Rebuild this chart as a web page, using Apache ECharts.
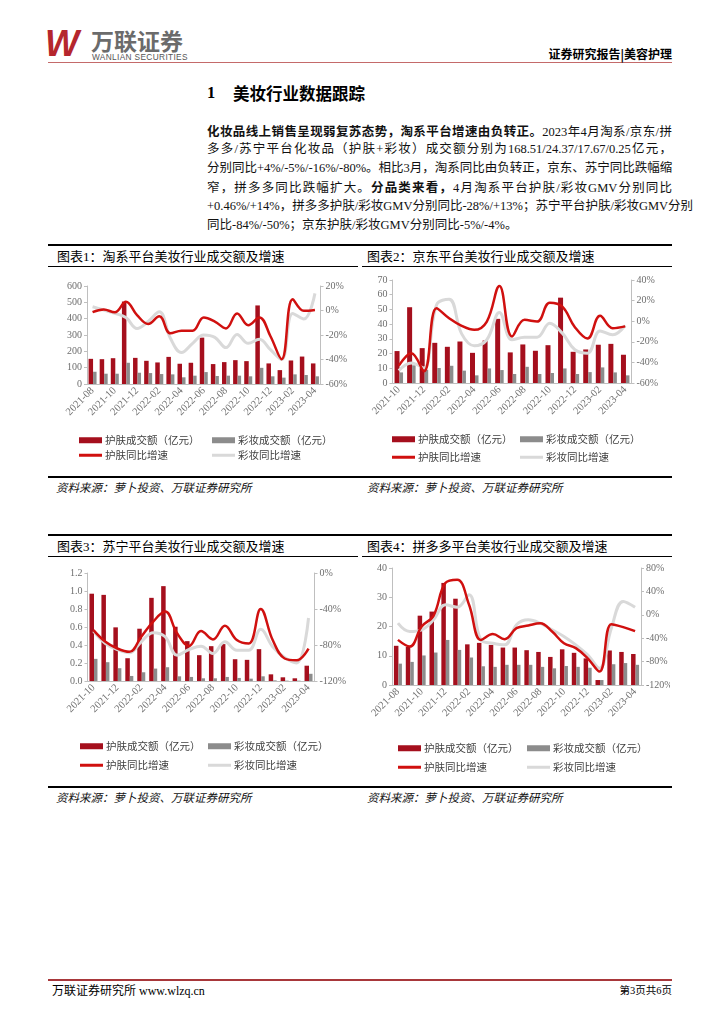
<!DOCTYPE html>
<html><head><meta charset="utf-8">
<script src="https://cdn.jsdelivr.net/npm/echarts@6/dist/echarts.min.js"></script>
<style>
body{margin:0;width:724px;height:1024px;background:#fff;position:relative;overflow:hidden;font-family:'Liberation Serif','Noto Sans CJK SC',serif;color:#000;}
.a{position:absolute;white-space:nowrap;}
.ln{position:absolute;background:#000;}
.para{position:absolute;left:207px;width:465px;font-size:12.5px;line-height:18.8px;height:18.8px;text-align:justify;text-align-last:justify;white-space:nowrap;font-family:'Liberation Serif','Noto Sans CJK SC',serif;color:#111;}
.para b{font-family:'Noto Sans CJK SC';font-weight:bold;}
.ttl{position:absolute;font-size:13px;line-height:16px;font-family:'Liberation Serif','Noto Sans CJK SC';}
.src{position:absolute;font-size:11.5px;line-height:14px;font-style:italic;font-family:'Liberation Serif','Noto Sans CJK SC';color:#111;}
.ch{position:absolute;}
</style></head><body>
<!-- header -->
<div class="a" style="left:45px;top:23px;font:italic bold 36px 'Liberation Sans';color:#b5262d;letter-spacing:-3px;">W</div>
<div class="a" style="left:91px;top:25px;font:bold 23px 'Noto Sans CJK SC';color:#6b6b6b;line-height:30px;">万联证券</div>
<div class="a" style="left:92px;top:53px;font:8.3px 'Liberation Sans';color:#555;letter-spacing:0.35px;line-height:9px;">WANLIAN SECURITIES</div>
<div class="ln" style="left:48px;top:62px;width:624px;height:1px;background:#c46a6a;"></div>
<div class="a" style="right:52px;top:46px;font:bold 12px 'Noto Sans CJK SC';line-height:15px;">证券研究报告|美容护理</div>
<div class="a" style="left:207px;top:83px;font:bold 16.5px 'Liberation Serif';line-height:20px;">1</div>
<div class="a" style="left:233px;top:83px;font:bold 16.5px 'Noto Sans CJK SC';line-height:20px;">美妆行业数据跟踪</div>
<div class="para" style="top:121.5px;"><b>化妆品线上销售呈现弱复苏态势，淘系平台增速由负转正。</b>2023年4月淘系/京东/拼</div>
<div class="para" style="top:140.3px;">多多/苏宁平台化妆品（护肤+彩妆）成交额分别为168.51/24.37/17.67/0.25亿元，</div>
<div class="para" style="top:159.1px;">分别同比+4%/-5%/-16%/-80%。相比3月，淘系同比由负转正，京东、苏宁同比跌幅缩</div>
<div class="para" style="top:177.9px;">窄，拼多多同比跌幅扩大。<b>分品类来看，</b>4月淘系平台护肤/彩妆GMV分别同比</div>
<div class="para" style="top:196.7px;">+0.46%/+14%，拼多多护肤/彩妆GMV分别同比-28%/+13%；苏宁平台护肤/彩妆GMV分别</div>
<div class="para" style="top:215.5px;text-align-last:left;">同比-84%/-50%；京东护肤/彩妆GMV分别同比-5%/-4%。</div>

<!-- chart frames row 1 -->
<div class="ln" style="left:48px;top:244px;width:624px;height:2px;"></div>
<div class="ttl" style="left:57px;top:249px;">图表1：淘系平台美妆行业成交额及增速</div>
<div class="ttl" style="left:367px;top:249px;">图表2：京东平台美妆行业成交额及增速</div>
<div class="ln" style="left:48px;top:266px;width:310px;height:1px;"></div>
<div class="ln" style="left:362px;top:266px;width:310px;height:1px;"></div>
<div class="ln" style="left:48px;top:476px;width:624px;height:2px;"></div>
<div class="src" style="left:56px;top:481px;">资料来源：萝卜投资、万联证券研究所</div>
<div class="src" style="left:367px;top:481px;">资料来源：萝卜投资、万联证券研究所</div>

<!-- chart frames row 2 -->
<div class="ln" style="left:48px;top:534px;width:624px;height:2px;"></div>
<div class="ttl" style="left:57px;top:539px;">图表3：苏宁平台美妆行业成交额及增速</div>
<div class="ttl" style="left:367px;top:539px;">图表4：拼多多平台美妆行业成交额及增速</div>
<div class="ln" style="left:48px;top:556px;width:310px;height:1px;"></div>
<div class="ln" style="left:362px;top:556px;width:310px;height:1px;"></div>
<div class="ln" style="left:48px;top:786px;width:624px;height:2px;"></div>
<div class="src" style="left:56px;top:791px;">资料来源：萝卜投资、万联证券研究所</div>
<div class="src" style="left:367px;top:791px;">资料来源：萝卜投资、万联证券研究所</div>

<div id="c1" class="ch" style="left:50px;top:268px;width:307px;height:207px;"></div>
<div id="c2" class="ch" style="left:362px;top:268px;width:310px;height:207px;"></div>
<div id="c3" class="ch" style="left:50px;top:558px;width:307px;height:227px;"></div>
<div id="c4" class="ch" style="left:362px;top:558px;width:308px;height:227px;"></div>

<!-- footer -->
<div class="ln" style="left:48px;top:979px;width:624px;height:2px;background:#a8373a;"></div>
<div class="a" style="left:52px;top:983px;font:12px 'Liberation Serif','Noto Sans CJK SC';line-height:16px;">万联证券研究所 www.wlzq.cn</div>
<div class="a" style="right:52px;top:984px;font:10.5px 'Liberation Serif','Noto Sans CJK SC';line-height:14px;">第3页共6页</div>

<script>
// ---- data ----
const months21 = ['2021-08','2021-09','2021-10','2021-11','2021-12','2022-01','2022-02','2022-03','2022-04','2022-05','2022-06','2022-07','2022-08','2022-09','2022-10','2022-11','2022-12','2023-01','2023-02','2023-03','2023-04'];
const months19 = ['2021-10','2021-11','2021-12','2022-01','2022-02','2022-03','2022-04','2022-05','2022-06','2022-07','2022-08','2022-09','2022-10','2022-11','2022-12','2023-01','2023-02','2023-03','2023-04'];
const seriesNames = ['护肤成交额（亿元）','彩妆成交额（亿元）','护肤同比增速','彩妆同比增速'];

// 淘系
const tbSkin = [154,152,158,505,160,142,132,166,124,130,284,122,134,146,140,481,126,85,144,168,126];
const tbMakeup = [75,63,63,130,69,67,61,59,41,51,73,49,51,51,47,99,47,39,59,55,47];
const tbSkinYoy = [-1.4,0.8,-1.5,7.2,-3.8,-11,-4.7,-18.6,-16.5,-16.5,-5.7,-9,-14.6,-2.4,-12,-5.7,-21,-39.7,9.2,-0.3,0.46];
const tbMakeupYoy = [3.1,0.4,-2.3,-5.8,-14.6,-9,-1,-22.7,-34.3,-26.8,-20,-21.9,-30.3,-19.5,-26.8,-23.5,-32,-40,-2.4,-7,14];
const tbLeft = [0,600,100], tbRight = [-60,20,20];

// 京东
const jdSkin = [21.7,51.5,23.7,27.3,24.6,28.2,20.5,28.9,43.6,20.8,26.2,21.9,25.7,58,21.2,22.8,26,26.6,19.2];
const jdMakeup = [7.2,12,9,10.2,11.7,8.4,5.2,9.9,8.8,6.1,11,6.1,6.8,9.9,6.1,7.4,10.6,7.2,5.2];
const jdSkinYoy = [-43.2,-31,-48.7,12.6,2.9,-4.5,-8.4,-0.3,34.2,-14.8,1.3,-0.3,18,14.2,-5.8,-16.8,5.2,-6.8,-5];
const jdMakeupYoy = [-48,-40.6,-45.5,15.8,21.3,-12.3,-23.9,-18,8.4,-18,-15.5,-15.5,-2,-11.6,-27.7,-31,-9.4,-13.2,-4];
const jdLeft = [0,70,10], jdRight = [-60,40,20];

// 苏宁
const snSkin = [0.97,0.957,0.596,0.253,0.581,0.924,1.054,0.603,0.443,0.287,0.387,0.41,0.242,0.235,0.354,0.074,0.041,0.03,0.17];
const snMakeup = [0.246,0.209,0.142,0.056,0.097,0.138,0.153,0.052,0.045,0.03,0.03,0.045,0.034,0.026,0.052,0.007,0.004,0.004,0.08];
const snSkinYoy = [-63.4,-76.4,-83.9,-87.6,-70.8,-54,-42.9,-67,-81,-64.5,-73.8,-58.5,-74.5,-78.3,-39.9,-74.5,-95,-97,-84];
const snMakeupYoy = [-64.5,-78.3,-85,-88.7,-76.4,-66.3,-70.8,-91.3,-85,-81.3,-89.5,-76.4,-85.7,-85.7,-62.6,-82,-94,-99.9,-50];
const snLeft = [0,1.2,0.2], snRight = [-120,0,40];

// 拼多多
const pddSkin = [13.4,13,23.7,25.1,34.9,29.5,13.9,14.4,13.7,12.8,12.8,11.9,11.3,9.6,12.2,11,9.1,1.7,11.8,11.3,10.6];
const pddMakeup = [7.3,7.9,10.1,11.1,15.4,12,9.4,6.4,6.2,6.9,6.9,6.9,6.2,5.7,6.5,6.2,5.9,1.7,7.1,7.5,6.9];
const pddSkinYoy = [-42.9,-54.3,-20,-1.7,54.3,60,17.1,-42.9,-33,-41.7,-22.9,-18.3,-14.3,-28.6,-48.6,-57,-74.3,-97,-16,-21,-28];
const pddMakeupYoy = [-14.3,-28.6,-25.7,-8.6,17.1,13.1,34.3,-42.9,-48.6,-51.4,-17.1,-8.6,-14.3,-25.7,-37,-51.4,-68.6,-91.4,-22.9,22.9,13];
const pddLeft = [0,40,10], pddRight = [-120,80,40];

// ---- styles ----
const C_BAR1 = '#a50f1d', C_BAR2 = '#8c8c8c', C_LINE1 = '#d0100f', C_LINE2 = '#d9d9d9';
const AX = '#bfbfbf', LBL = '#6e6e6e';

function build(id, o) {
  const chart = echarts.init(document.getElementById(id), null, {renderer: 'canvas'});
  const labelFont = {fontSize: 10, color: LBL, fontFamily: 'Liberation Serif'};
  const yBase = (r, pos, fmt) => ({
    type: 'value', position: pos, min: r[0], max: r[1], interval: r[2],
    axisLine: {show: true, lineStyle: {color: AX}},
    axisTick: {show: true, length: 3, lineStyle: {color: AX}},
    splitLine: {show: false},
    axisLabel: Object.assign({margin: 5, formatter: fmt}, labelFont)
  });
  const lg = (name, left, top, h) => ({
    data: [{name: name, icon: 'rect'}], left: left, top: top,
    itemWidth: 23, itemHeight: h, itemGap: 0, padding: 0,
    textStyle: {fontSize: 10.5, color: '#404040', fontFamily: 'Noto Sans CJK SC', padding: [0, 0, 0, -2]}
  });
  chart.setOption({
    animation: false,
    grid: {left: o.grid[0], right: o.grid[1], top: o.grid[2], bottom: o.grid[3], containLabel: false, outerBoundsMode: 'none'},
    xAxis: {
      type: 'category', data: o.months, boundaryGap: true,
      axisLine: {lineStyle: {color: AX}}, axisTick: {show: false},
      axisLabel: Object.assign({interval: 1, rotate: 45, margin: 5}, labelFont, {fontSize: 10.5})
    },
    yAxis: [yBase(o.left, 'left', o.leftFmt), yBase(o.right, 'right', v => v + '%')],
    legend: [
      lg(seriesNames[0], o.lg[0], o.lg[2], 6),
      lg(seriesNames[1], o.lg[1], o.lg[2], 6),
      lg(seriesNames[2], o.lg[0], o.lg[3], 3),
      lg(seriesNames[3], o.lg[1], o.lg[3], 3)
    ],
    series: [
      {name: seriesNames[0], type: 'bar', data: o.skin, barWidth: o.bw[0], barGap: '0%', itemStyle: {color: C_BAR1}},
      {name: seriesNames[1], type: 'bar', data: o.makeup, barWidth: o.bw[1], barGap: '0%', itemStyle: {color: C_BAR2}},
      {name: seriesNames[3], type: 'line', yAxisIndex: 1, data: o.makeupYoy, smooth: 0.4, symbol: 'none', z: 3,
        lineStyle: {color: C_LINE2, width: 3}, itemStyle: {color: C_LINE2}},
      {name: seriesNames[2], type: 'line', yAxisIndex: 1, data: o.skinYoy, smooth: 0.4, symbol: 'none', z: 4,
        lineStyle: {color: C_LINE1, width: 2.5}, itemStyle: {color: C_LINE1}}
    ]
  });
}

build('c1', {months: months21, skin: tbSkin, makeup: tbMakeup, skinYoy: tbSkinYoy, makeupYoy: tbMakeupYoy,
  left: tbLeft, right: tbRight, leftFmt: v => String(v), grid: [37, 36.5, 18, 91], bw: [4.5, 3.5], lg: [29, 162, 167, 182]});
build('c2', {months: months19, skin: jdSkin, makeup: jdMakeup, skinYoy: jdSkinYoy, makeupYoy: jdMakeupYoy,
  left: jdLeft, right: jdRight, leftFmt: v => String(v), grid: [30.5, 40.5, 12, 92], bw: [5, 3.5], lg: [30, 158, 166, 184]});
build('c3', {months: months19, skin: snSkin, makeup: snMakeup, skinYoy: snSkinYoy, makeupYoy: snMakeupYoy,
  left: snLeft, right: snRight, leftFmt: v => v.toFixed(1), grid: [37.5, 42.5, 15, 104], bw: [4.5, 3.5], lg: [30, 158, 183, 202]});
build('c4', {months: months21, skin: pddSkin, makeup: pddMakeup, skinYoy: pddSkinYoy, makeupYoy: pddMakeupYoy,
  left: pddLeft, right: pddRight, leftFmt: v => String(v), grid: [30, 29, 10, 100], bw: [4.5, 3.5], lg: [36, 165, 185, 204]});
</script>
</body></html>
